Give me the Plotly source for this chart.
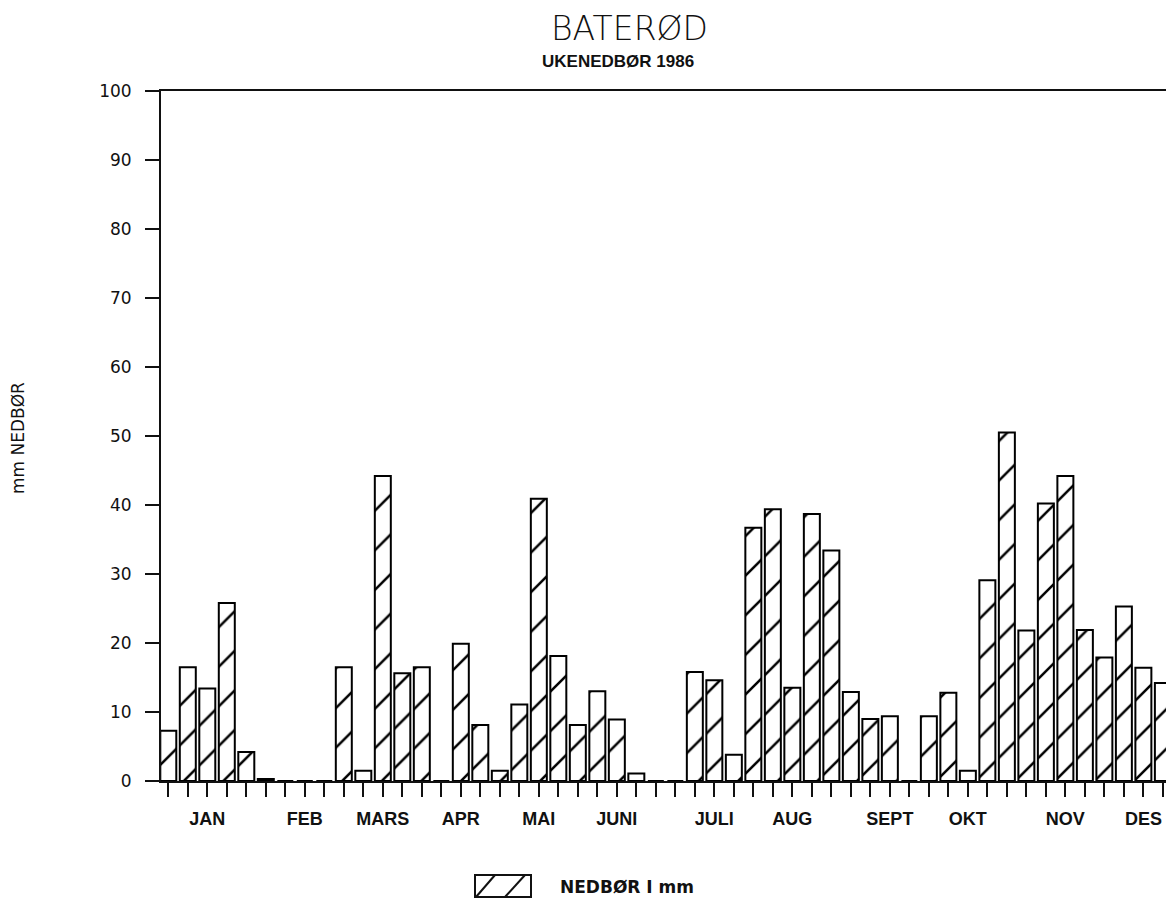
import plotly.graph_objects as go

# ---- data ----
weeks = list(range(1, 53))
nedbor_mm = [7.3, 16.5, 13.4, 25.8, 4.2, 0.3, 0, 0, 0, 16.5,
             1.5, 44.2, 15.6, 16.5, 0, 19.9, 8.1, 1.5, 11.1, 40.9,
             18.1, 8.1, 13.0, 8.9, 1.1, 0, 0, 15.8, 14.6, 3.8,
             36.7, 39.4, 13.5, 38.7, 33.4, 12.9, 9.0, 9.4, 0, 9.4,
             12.8, 1.5, 29.1, 50.5, 21.8, 40.2, 44.2, 21.9, 17.9, 25.3,
             16.4, 14.2]
month_weeks = [3, 8, 12, 16, 20, 24, 29, 33, 38, 42, 47, 51]
month_labels = ["JAN", "FEB", "MARS", "APR", "MAI", "JUNI",
                "JULI", "AUG", "SEPT", "OKT", "NOV", "DES"]
y_ticks = list(range(0, 101, 10))

title_text = "BATERØD"
subtitle_text = "UKENEDBØR 1986"
y_title = "mm NEDBØR"
legend_text = "NEDBØR I mm"

# ---- layout geometry (pixels) ----
W, H = 1166, 904
L, R, T, B = 161, 0, 91, 123
PW, PH = W - L - R, H - T - B


def px_x(px):
    return (px - L) / PW


def px_y(py):
    return (H - B - py) / PH


fig = go.Figure()
fig.add_trace(go.Bar(
    x=weeks, y=nedbor_mm, width=0.82, name=legend_text, showlegend=False,
    marker=dict(color="white",
                line=dict(color="black", width=2),
                pattern=dict(shape="/", size=28, solidity=0.09, fgopacity=1,
                             fgcolor="black", bgcolor="white")),
))

ink = "#111111"
fig.update_layout(
    width=W, height=H,
    margin=dict(l=L, r=R, t=T, b=B),
    paper_bgcolor="white", plot_bgcolor="white",
    font=dict(family="DejaVu Sans", color=ink),
    xaxis=dict(
        range=[0.626, 52.16], showgrid=False, zeroline=False,
        showline=True, linecolor=ink, linewidth=2, mirror=True,
        tickmode="array", tickvals=month_weeks, ticktext=month_labels,
        ticks="outside", ticklen=14, tickwidth=2, tickcolor=ink,
        ticklabelstandoff=6,
        tickfont=dict(family="Liberation Sans", size=18, color=ink, weight="bold"),
        minor=dict(tickmode="array", tickvals=weeks, ticks="outside",
                   ticklen=14, tickwidth=2, tickcolor=ink, showgrid=False),
    ),
    yaxis=dict(
        range=[0, 100], showgrid=False, zeroline=False,
        showline=True, linecolor=ink, linewidth=2,
        tickmode="array", tickvals=y_ticks,
        ticks="outside", ticklen=14, tickwidth=2, tickcolor=ink,
        ticklabelstandoff=10,
        tickfont=dict(family="DejaVu Sans", size=17, color=ink),
    ),
    bargap=0.18,
)

annotations = [
    dict(text=title_text, x=px_x(629), y=px_y(28), xref="paper", yref="paper",
         showarrow=False, xanchor="center", yanchor="middle",
         font=dict(family="DejaVu Sans", size=33, color=ink, weight=200)),
    dict(text=subtitle_text, x=px_x(618), y=px_y(61), xref="paper", yref="paper",
         showarrow=False, xanchor="center", yanchor="middle",
         font=dict(family="Liberation Sans", size=17, color=ink, weight="bold")),
    dict(text=y_title, x=px_x(18), y=px_y(438), xref="paper", yref="paper",
         showarrow=False, xanchor="center", yanchor="middle", textangle=-90,
         font=dict(family="DejaVu Sans", size=17, color=ink)),
    dict(text=legend_text, x=px_x(558), y=px_y(887), xref="paper", yref="paper",
         showarrow=False, xanchor="left", yanchor="middle",
         font=dict(family="DejaVu Sans", size=17, color=ink, weight="bold")),
]
fig.update_layout(annotations=annotations)

# legend swatch (hatched box)
bx0, bx1, by0, by1 = 475, 531, 875, 897
shapes = [
    dict(type="rect", xref="paper", yref="paper",
         x0=px_x(bx0), x1=px_x(bx1), y0=px_y(by1), y1=px_y(by0),
         line=dict(color=ink, width=2), fillcolor="white"),
    dict(type="line", xref="paper", yref="paper",
         x0=px_x(476), y0=px_y(by1), x1=px_x(495), y1=px_y(by0),
         line=dict(color=ink, width=2)),
    dict(type="line", xref="paper", yref="paper",
         x0=px_x(505), y0=px_y(by1), x1=px_x(525), y1=px_y(by0),
         line=dict(color=ink, width=2)),
]
fig.update_layout(shapes=shapes)

fig.write_html("out.html")
